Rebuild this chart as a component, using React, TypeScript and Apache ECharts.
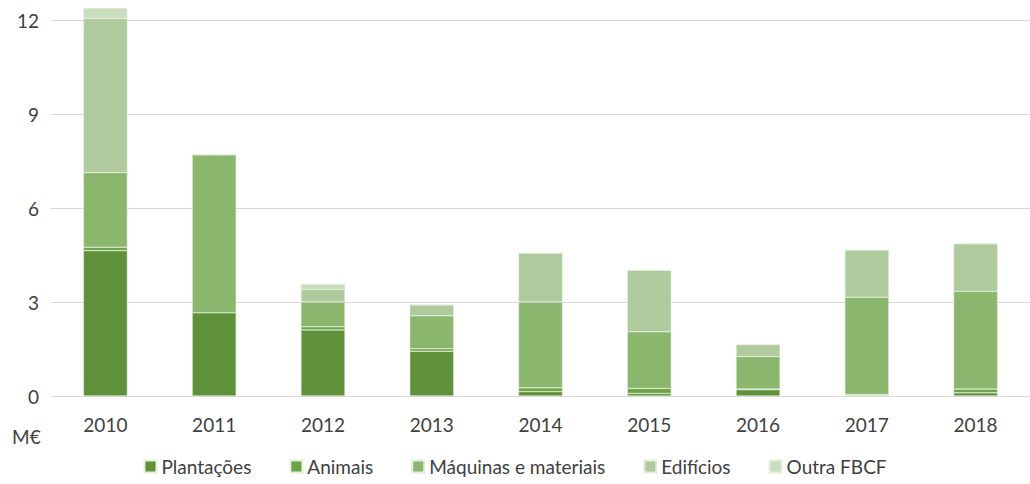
import React, { useEffect, useRef } from "react";
import * as echarts from "echarts";

const years = ["2010", "2011", "2012", "2013", "2014", "2015", "2016", "2017", "2018"];
const plantacoes = [4.64, 2.66, 2.11, 1.43, 0.14, 0.08, 0.2, 0.02, 0.1];
const animais = [0.11, 0.0, 0.1, 0.08, 0.12, 0.16, 0.02, 0.03, 0.12];
const maquinas = [2.38, 5.04, 0.79, 1.05, 2.74, 1.81, 1.04, 3.1, 3.12];
const edificios = [4.92, 0.0, 0.4, 0.35, 1.56, 1.96, 0.38, 1.51, 1.52];
const outra = [0.33, 0.0, 0.17, 0.0, 0.0, 0.0, 0.0, 0.0, 0.0];
const yTicks = [0, 3, 6, 9, 12];

const seriesDefs = [
  { name: "Plantações", data: plantacoes, color: "#5f913b" },
  { name: "Animais", data: animais, color: "#6da443" },
  { name: "Máquinas e materiais", data: maquinas, color: "#8ab76d" },
  { name: "Edifícios", data: edificios, color: "#afcb9d" },
  { name: "Outra FBCF", data: outra, color: "#c9dcbd" },
];

const FONT = "Lato, 'Noto Sans', sans-serif";
const FS = 19;

export default function App() {
  const ref = useRef<HTMLDivElement>(null);
  useEffect(() => {
    if (!ref.current) return;
    const chart = echarts.init(ref.current, undefined, { renderer: "svg" });
    chart.setOption({
      animation: false,
      backgroundColor: "#ffffff",
      textStyle: { fontFamily: FONT },
      grid: { left: 51, top: 20, width: 986, bottom: 88 },
      legend: {
        bottom: 3,
        left: "center",
        itemWidth: 12,
        itemHeight: 12,
        itemGap: 38,
        icon: "rect",
        textStyle: { color: "#404040", fontSize: FS, fontFamily: FONT },
        data: seriesDefs.map((s) => s.name),
      },
      xAxis: {
        type: "category",
        data: years,
        axisLine: { show: false },
        axisTick: { show: false },
        axisLabel: { color: "#404040", fontSize: FS, margin: 19, fontFamily: FONT },
      },
      yAxis: {
        type: "value",
        min: 0,
        max: yTicks[yTicks.length - 1],
        interval: 3,
        axisLine: { show: false },
        axisTick: { show: false },
        splitLine: { lineStyle: { color: "#d9d9d9", width: 1 } },
        axisLabel: { color: "#404040", fontSize: FS, margin: 12, fontFamily: FONT },
      },
      graphic: [
        {
          type: "text",
          left: 12,
          top: 427,
          style: { text: "M€", fill: "#404040", fontSize: FS, fontFamily: FONT },
        },
      ],
      series: seriesDefs.map((s) => ({
        name: s.name,
        type: "bar",
        stack: "total",
        barWidth: 44,
        clip: false,
        data: s.data,
        itemStyle: { color: s.color, borderColor: "#e4eedc", borderWidth: 0.5 },
      })),
    });
    return () => chart.dispose();
  }, []);
  return (
    <div
      ref={ref}
      style={{ position: "absolute", left: 0, top: 0, width: 1030, height: 484 }}
    />
  );
}
